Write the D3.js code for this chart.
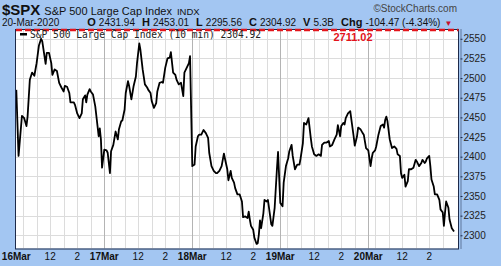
<!DOCTYPE html>
<html>
<head>
<meta charset="utf-8">
<script src="https://cdn.jsdelivr.net/npm/d3@7"></script>
<style>
  body { margin: 0; background: #a3c6f2; }
  svg { display: block; }
  text { font-family: Arial, "Liberation Sans", sans-serif; }
</style>
</head>
<body>
<svg id="chart" width="501" height="266"></svg>
<script>
// day labels on the x axis, and the intraday labels between them
var days = ["16Mar", "17Mar", "18Mar", "19Mar", "20Mar"];
var hourLabels = [["12:00", "12"], ["14:00", "2"]];
var yTicks = [2300, 2325, 2350, 2375, 2400, 2425, 2450, 2475, 2500, 2525, 2550];

// 10 min closes: [time, close]
var mar16 = [["09:30",2485],["09:40",2401],["09:55",2452],["10:05",2449],["10:15",2439],["10:20",2451],
  ["10:30",2498],["10:40",2507],["10:50",2503],["11:00",2519],["11:10",2541],["11:20",2550],["11:25",2547],
  ["11:40",2518],["11:45",2532],["11:55",2532],["12:05",2519],["12:10",2504],["12:20",2511],["12:30",2509],
  ["12:40",2494],["12:50",2488],["13:00",2483],["13:05",2490],["13:15",2489],["13:25",2481],["13:30",2469],
  ["13:45",2469],["13:50",2466],["14:00",2455],["14:10",2449],["14:20",2455],["14:25",2473],["14:35",2478],
  ["14:40",2469],["14:45",2479],["14:55",2486],["15:00",2483],["15:10",2479],["15:20",2464],["15:30",2439],
  ["15:35",2426],["15:40",2436],["15:45",2422],["15:50",2386]];
var mar17 = [["09:30",2409],["09:40",2408],["09:45",2405],["09:55",2379],["10:00",2407],["10:10",2415],
  ["10:20",2432],["10:30",2422],["10:35",2435],["10:45",2445],["10:50",2446],["11:00",2460],["11:05",2481],
  ["11:15",2496],["11:20",2490],["11:30",2473],["11:40",2490],["11:50",2502],["11:55",2519],["12:05",2544],
  ["12:10",2536],["12:20",2511],["12:30",2492],["12:40",2488],["12:45",2485],["12:55",2481],["13:00",2471],
  ["13:10",2462],["13:20",2468],["13:25",2483],["13:35",2494],["13:45",2495],["13:50",2494],["14:00",2513],
  ["14:10",2525],["14:20",2526],["14:25",2533],["14:35",2507],["14:45",2504],["14:50",2498],["15:00",2492],
  ["15:10",2494],["15:20",2477],["15:25",2507],["15:35",2513],["15:45",2519],["15:50",2528]];
var mar18 = [["09:30",2388],["09:40",2390],["09:45",2413],["09:55",2426],["10:00",2428],["10:10",2428],
  ["10:20",2434],["10:30",2430],["10:40",2424],["10:45",2405],["10:55",2388],["11:05",2382],["11:15",2379],
  ["11:20",2379],["11:30",2382],["11:40",2388],["11:50",2404],["11:55",2397],["12:05",2384],["12:10",2370],
  ["12:20",2382],["12:25",2373],["12:35",2367],["12:40",2360],["12:50",2352],["13:00",2352],["13:10",2343],
  ["13:15",2323],["13:25",2324],["13:35",2322],["13:40",2330],["13:45",2320],["13:50",2312],["14:00",2307],
  ["14:05",2297],["14:15",2289],["14:20",2290],["14:25",2301],["14:30",2319],["14:35",2309],["14:45",2328],
  ["14:50",2345],["15:00",2343],["15:05",2345],["15:10",2335],["15:20",2314],["15:25",2312],["15:35",2335],
  ["15:45",2384],["15:50",2406]];
var mar19 = [["09:30",2341],["09:40",2337],["09:45",2367],["09:55",2388],["10:05",2398],["10:10",2407],
  ["10:20",2415],["10:25",2401],["10:35",2384],["10:45",2390],["10:55",2390],["11:00",2398],["11:10",2417],
  ["11:15",2443],["11:25",2441],["11:35",2449],["11:45",2424],["11:50",2413],["12:00",2403],["12:10",2401],
  ["12:20",2403],["12:30",2401],["12:35",2415],["12:45",2418],["12:55",2418],["13:05",2420],["13:10",2413],
  ["13:20",2415],["13:30",2422],["13:40",2428],["13:45",2440],["13:55",2426],["14:00",2439],["14:10",2443],
  ["14:15",2441],["14:20",2449],["14:30",2455],["14:40",2458],["14:45",2447],["14:55",2426],["15:00",2414],
  ["15:10",2426],["15:15",2437],["15:25",2435],["15:35",2430],["15:40",2428],["15:50",2411]];
var mar20 = [["09:30",2408],["09:40",2388],["09:45",2398],["09:50",2405],["10:00",2408],["10:05",2413],
  ["10:15",2428],["10:25",2439],["10:35",2441],["10:40",2437],["10:45",2447],["10:50",2451],["10:55",2445],
  ["11:05",2422],["11:15",2411],["11:25",2413],["11:35",2410],["11:40",2403],["11:50",2401],["11:55",2379],
  ["12:00",2373],["12:10",2377],["12:15",2362],["12:25",2369],["12:30",2384],["12:40",2384],["12:50",2386],
  ["13:00",2396],["13:05",2394],["13:15",2388],["13:25",2392],["13:30",2396],["13:40",2392],["13:45",2394],
  ["13:50",2398],["14:00",2401],["14:05",2388],["14:10",2371],["14:20",2362],["14:25",2352],["14:35",2352],
  ["14:45",2345],["14:50",2333],["15:00",2329],["15:05",2312],["15:10",2329],["15:15",2343],["15:25",2335],
  ["15:30",2320],["15:40",2309],["15:50",2304.92]];
var sessions = [mar16, mar17, mar18, mar19, mar20];

var svg = d3.select("#chart"),
    plot = {left: 16, right: 458.5, top: 29.5, bottom: 248.5};

// minutes since the first open, counting only trading hours (390 per day)
function sessionMin(day, hhmm) {
    var p = hhmm.split(":");
    return day * 390 + (+p[0] * 60 + +p[1]) - 570;
}

var x = d3.scaleLinear().domain([0, 1950]).range([16.3, 456.3]),
    y = d3.scaleLinear().domain([2283.2, 2561.8]).range([plot.bottom, plot.top]);

var points = [];
sessions.forEach(function (s, i) {
    s.forEach(function (d) {
        points.push({t: sessionMin(i, d[0]), v: d[1]});
    });
});

// header
var head = svg.append("text").attr("x", 2).attr("y", 15).attr("fill", "#111");
head.append("tspan").style("font-weight", "bold").style("font-size", "15px").text("$SPX");
head.append("tspan").attr("dx", 4).style("font-size", "11px").text("S&P 500 Large Cap Index");
head.append("tspan").attr("dx", 5).style("font-size", "9.5px").text("INDX");

svg.append("text").attr("x", 457).attr("y", 12).attr("text-anchor", "end")
    .attr("fill", "#444").style("font-size", "10px").text("\u00a9StockCharts.com");

var row = svg.append("text").attr("x", 2).attr("y", 26).attr("fill", "#111").style("font-size", "10px");
row.append("tspan").text("20-Mar-2020");
var quote = [["O", "2431.94"], ["H", "2453.01"], ["L", "2295.56"], ["C", "2304.92"], ["V", "5.3B"], ["Chg", "-104.47 (-4.34%)"]];
quote.forEach(function (q, i) {
    row.append("tspan").attr("dx", i === 0 ? 28 : 7).style("font-weight", "bold").style("font-size", "11px").text(q[0]);
    row.append("tspan").attr("dx", 3).text(q[1]);
});
row.append("tspan").attr("dx", 4).attr("fill", "#c8102e").style("font-size", "8px").text("\u25bc");

// plot area
svg.append("rect")
    .attr("x", plot.left).attr("y", plot.top)
    .attr("width", plot.right - plot.left).attr("height", plot.bottom - plot.top)
    .attr("fill", "#fff");

var grid = svg.append("g");
grid.selectAll(".hgrid").data(yTicks).enter().append("line")
    .attr("x1", plot.left).attr("x2", plot.right)
    .attr("y1", function (d) { return Math.round(y(d)) + 0.5; })
    .attr("y2", function (d) { return Math.round(y(d)) + 0.5; })
    .attr("stroke", "#dcdcdc");

var vlines = [];
days.forEach(function (d, i) {
    ["10:00", "11:00", "12:00", "13:00", "14:00", "15:00"].forEach(function (h) {
        vlines.push({t: sessionMin(i, h), major: false});
    });
    if (i > 0) vlines.push({t: sessionMin(i, "09:30"), major: true});
});
grid.selectAll(".vgrid").data(vlines).enter().append("line")
    .attr("x1", function (d) { return Math.round(x(d.t)) + 0.5; })
    .attr("x2", function (d) { return Math.round(x(d.t)) + 0.5; })
    .attr("y1", plot.top).attr("y2", plot.bottom)
    .attr("stroke", function (d) { return d.major ? "#b4b4b4" : "#dcdcdc"; });

var line = d3.line()
    .x(function (d) { return x(d.t); })
    .y(function (d) { return y(d.v); });

svg.append("path")
    .datum(points)
    .attr("d", line)
    .attr("fill", "none")
    .attr("stroke", "#000")
    .attr("stroke-width", 1.8)
    .attr("stroke-linejoin", "round");

// border
svg.append("rect")
    .attr("x", plot.left - 0.5).attr("y", plot.top)
    .attr("width", plot.right - plot.left + 0.5).attr("height", plot.bottom - plot.top + 0.5)
    .attr("fill", "none").attr("stroke", "#1d2a4a");

// the 2711.02 level is off the scale, so it sits on the top edge
svg.append("line")
    .attr("x1", plot.left).attr("x2", plot.right)
    .attr("y1", plot.top + 0.5).attr("y2", plot.top + 0.5)
    .attr("stroke", "#e3141b").attr("stroke-width", 2.5)
    .attr("stroke-dasharray", "6,3");
svg.append("text").attr("x", 353).attr("y", 41).attr("text-anchor", "middle")
    .attr("fill", "#e3141b").style("font-weight", "bold").style("font-size", "11px").text("2711.02");

// legend
svg.append("rect").attr("x", 20).attr("y", 33).attr("width", 7).attr("height", 2.5).attr("fill", "#000");
svg.append("text").attr("x", 30).attr("y", 37.5).attr("fill", "#222")
    .style("font-family", "'DejaVu Sans Mono', monospace").style("font-size", "9.6px")
    .text("S&P 500 Large Cap Index (10 min) 2304.92");

// right axis
var yAxis = svg.append("g")
    .attr("transform", "translate(" + (plot.right + 2) + ",0)")
    .call(d3.axisRight(y).tickValues(yTicks).tickSize(2).tickPadding(1).tickFormat(d3.format("d")));
yAxis.select(".domain").attr("stroke", "#1d2a4a").attr("stroke-dasharray", "1,1")
    .attr("d", "M0.5," + plot.top + "V" + plot.bottom);
yAxis.selectAll("text").attr("fill", "#222").style("font-size", "10px");
yAxis.selectAll(".tick line").attr("stroke", "#1d2a4a");

// bottom axis labels
var xLabels = [];
days.forEach(function (d, i) {
    xLabels.push({t: sessionMin(i, "09:30"), label: d, bold: true});
    hourLabels.forEach(function (h) {
        xLabels.push({t: sessionMin(i, h[0]), label: h[1], bold: false});
    });
});
svg.selectAll(".xlab").data(xLabels).enter().append("text")
    .attr("x", function (d) { return x(d.t); })
    .attr("y", 260)
    .attr("text-anchor", "middle")
    .attr("fill", "#111")
    .style("font-size", "10px")
    .style("font-weight", function (d) { return d.bold ? "bold" : "normal"; })
    .text(function (d) { return d.label; });
</script>
</body>
</html>
